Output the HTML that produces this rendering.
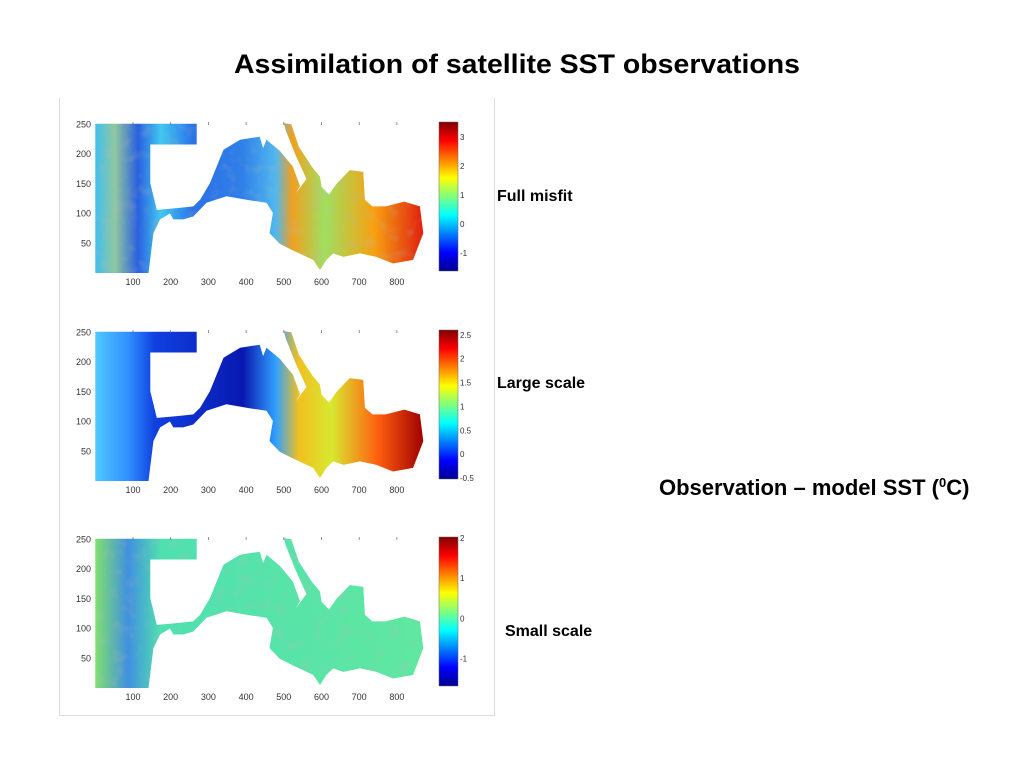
<!DOCTYPE html>
<html><head><meta charset="utf-8"><style>
html,body{margin:0;padding:0;background:#fff;width:1023px;height:767px;overflow:hidden}
svg{display:block}
text{font-family:"Liberation Sans",sans-serif}
</style></head><body>
<svg id="s" width="1023" height="767" viewBox="0 0 1023 767">
<defs>
<linearGradient id="jet" x1="0" y1="1" x2="0" y2="0">
<stop offset="0" stop-color="#00008f"/><stop offset="0.125" stop-color="#0000ff"/><stop offset="0.375" stop-color="#00ffff"/><stop offset="0.625" stop-color="#ffff00"/><stop offset="0.875" stop-color="#ff0000"/><stop offset="1" stop-color="#800000"/>
</linearGradient>
<linearGradient id="g1" x1="0" y1="0" x2="1" y2="0">
<stop offset="0" stop-color="#40c0f0"/><stop offset="0.06" stop-color="#90c8a0"/><stop offset="0.13" stop-color="#2a60e0"/><stop offset="0.2" stop-color="#40c8f0"/><stop offset="0.3" stop-color="#2a70e8"/><stop offset="0.45" stop-color="#3080e8"/><stop offset="0.55" stop-color="#50b8f0"/><stop offset="0.6" stop-color="#f0a020"/><stop offset="0.7" stop-color="#a0e060"/><stop offset="0.85" stop-color="#f8a010"/><stop offset="1" stop-color="#e02010"/>
</linearGradient>
<linearGradient id="g2" x1="0" y1="0" x2="1" y2="0">
<stop offset="0" stop-color="#50c8ff"/><stop offset="0.1" stop-color="#3090ff"/><stop offset="0.18" stop-color="#1040e0"/><stop offset="0.45" stop-color="#0818b0"/><stop offset="0.55" stop-color="#30a0ff"/><stop offset="0.62" stop-color="#f0c020"/><stop offset="0.72" stop-color="#d8e830"/><stop offset="0.86" stop-color="#ff6010"/><stop offset="1" stop-color="#a00000"/>
</linearGradient>
<linearGradient id="g3" x1="0" y1="0" x2="1" y2="0">
<stop offset="0" stop-color="#80e070"/><stop offset="0.1" stop-color="#4090e0"/><stop offset="0.2" stop-color="#50e0b0"/><stop offset="1" stop-color="#60e8a0"/>
</linearGradient>
<filter id="noise" x="0" y="0" width="1" height="1"><feTurbulence type="fractalNoise" baseFrequency="0.08" numOctaves="2" seed="3"/><feColorMatrix type="matrix" values="0 0 0 0 0.5  0 0 0 0 0.5  0 0 0 0 0.5  1 0 0 0 -0.5"/></filter>
</defs>
<text x="517" y="73" text-anchor="middle" font-size="27" font-weight="bold" textLength="566" lengthAdjust="spacingAndGlyphs">Assimilation of satellite SST observations</text>
<line x1="59.5" y1="98" x2="59.5" y2="716" stroke="#ddd"/>
<line x1="494.5" y1="98" x2="494.5" y2="716" stroke="#ddd"/>
<line x1="59" y1="715.5" x2="494" y2="715.5" stroke="#ddd"/>
<text x="497" y="201" font-size="16" font-weight="bold">Full misfit</text>
<text x="497" y="388" font-size="16" font-weight="bold">Large scale</text>
<text x="505" y="636" font-size="16" font-weight="bold">Small scale</text>
<text x="659" y="495" font-size="22" font-weight="bold">Observation – model SST (<tspan font-size="13" dy="-8">0</tspan><tspan dy="8">C)</tspan></text>
<g id="panels"></g>
</svg>
<script>
const xTicks=[100,200,300,400,500,600,700,800];
const yTicks=[50,100,150,200,250];
const panelOffsets=[0,208,415];
const panelFills=['g1','g2','g3'];
const cbRanges=[[-1.62,3.52],[-0.52,2.6],[-1.68,2.02]];
const cbTicks=[[-1,0,1,2,3],[-0.5,0,0.5,1,1.5,2,2.5],[-1,0,1,2]];
const sea=[[0,0],[0,251],[269,251],[269,216],[146,216],[146,151],[163,106],[198,108],[230,110],[260,112],[278,123],[304,151],[322,179],[340,207],[384,224],[436,229],[445,210],[454,224],[490,205],[524,179],[543,146],[532,134],[560,158],[530,200],[505,240],[500,252],[520,250],[540,212],[575,178],[596,162],[600,145],[620,132],[640,150],[658,162],[675,173],[711,170],[715,123],[735,112],[770,112],[820,120],[861,112],[870,67],[843,22],[790,16],[746,27],[702,33],[658,27],[631,33],[613,22],[596,5],[578,22],[524,38],[489,49],[462,67],[471,101],[454,118],[401,123],[348,129],[295,118],[260,95],[233,90],[207,90],[198,100],[172,90],[154,67],[141,0]];
const X0=95.3,SX=0.377,Y0=273,SY=0.595,CBX=439,CBW=19,TOP=122,BOT=271;
const NS='http://www.w3.org/2000/svg';
const root=document.getElementById('panels');
function mk(t,a,p){const e=document.createElementNS(NS,t);for(const k in a)e.setAttribute(k,a[k]);p.appendChild(e);return e;}
panelOffsets.forEach((off,i)=>{
  const g=mk('g',{},root);
  
  
  const px=x=>X0+x*SX, py=y=>Y0+off-y*SY;
  const pts=sea.map(p=>px(p[0]).toFixed(1)+','+py(p[1]).toFixed(1)).join(' ');
  const map=mk('polygon',{points:pts,fill:'url(#'+panelFills[i]+')'},g);
  
  
  if(i!==1){const cp=mk('clipPath',{id:'cp'+i},g);mk('polygon',{points:pts},cp);
    mk('rect',{x:95,y:TOP+off,width:330,height:150,filter:'url(#noise)','clip-path':'url(#cp'+i+')',opacity:0.6},g);}
  xTicks.forEach(v=>{const t=mk('text',{x:px(v),y:BOT+off+14,'font-size':9,'text-anchor':'middle',fill:'#333'},g);t.textContent=v;
    
    mk('line',{x1:px(v),x2:px(v),y1:TOP+off,y2:TOP+off+3,stroke:'#666','stroke-width':0.7},g);});
  yTicks.forEach(v=>{const t=mk('text',{x:91,y:py(v)+3,'font-size':9,'text-anchor':'end',fill:'#333'},g);t.textContent=v;
    });
  const cb=mk('rect',{x:CBX,y:TOP+off,width:CBW,height:BOT-TOP,fill:'url(#jet)',stroke:'#666','stroke-width':0.5},g);
  
  
  const [lo,hi]=cbRanges[i];
  cbTicks[i].forEach(v=>{const y=BOT+off-(v-lo)/(hi-lo)*(BOT-TOP);
    const t=mk('text',{x:CBX+CBW+2,y:y+3,'font-size':8,fill:'#333'},g);t.textContent=v;
    });
});
</script>
</body></html>
